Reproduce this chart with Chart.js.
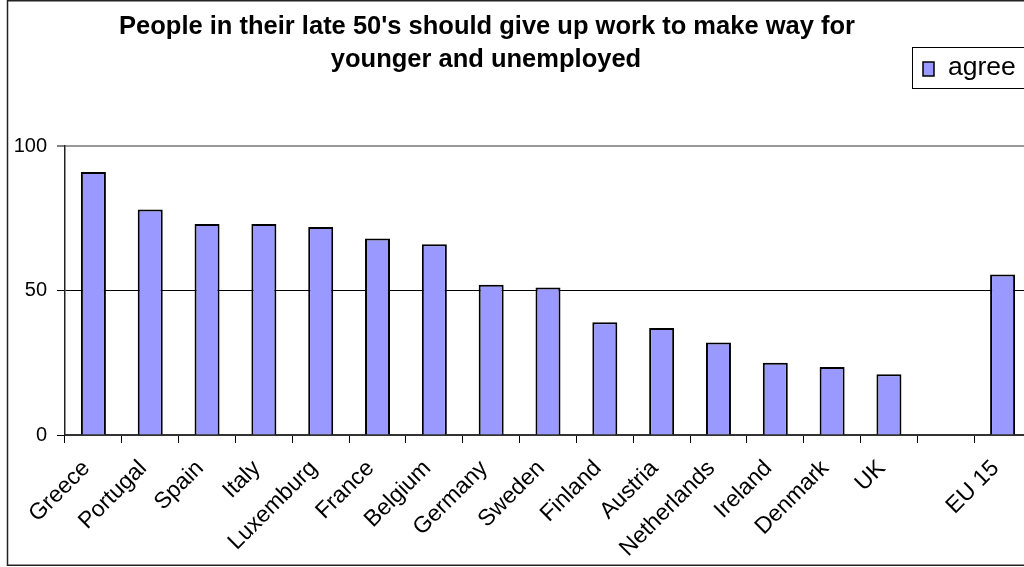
<!DOCTYPE html>
<html>
<head>
<meta charset="utf-8">
<script src="https://cdn.jsdelivr.net/npm/chart.js@4/dist/chart.umd.min.js"></script>
<style>
  html, body { margin: 0; padding: 0; background: #fff; overflow: hidden; }
  #wrap { width: 1040px; height: 567px; }
</style>
</head>
<body>
<div id="wrap"><canvas id="chart" width="1040" height="567"></canvas></div>
<script>
// data
const countries = ["Greece", "Portugal", "Spain", "Italy", "Luxemburg", "France", "Belgium",
    "Germany", "Sweden", "Finland", "Austria", "Netherlands", "Ireland", "Denmark", "UK", "", "EU 15"];
const agree = [91, 78, 73, 73, 72, 68, 66, 52, 51, 39, 37, 32, 25, 23.5, 21, null, 55.5];
const yTicks = [0, 50, 100];
const titleLines = ["People in their late 50's should give up work to make way for",
    "younger and unemployed"];

const FONT = "'Liberation Sans', Arial, sans-serif";

// title, legend box and outer frame drawn like the spreadsheet chart
const decorations = {
    id: "decorations",
    afterDraw(chart) {
        const ctx = chart.ctx;
        ctx.save();
        // outer frame
        ctx.strokeStyle = "#222";
        ctx.lineWidth = 1.5;
        ctx.strokeRect(7.5, 0.75, 1100, 564.5);

        // title
        ctx.fillStyle = "#000";
        ctx.font = "bold 25.5px " + FONT;
        ctx.textAlign = "center";
        ctx.textBaseline = "alphabetic";
        ctx.fillText(titleLines[0], 487, 34);
        ctx.fillText(titleLines[1], 486, 67);

        // legend
        const ds = chart.data.datasets[0];
        ctx.lineWidth = 1;
        ctx.strokeStyle = "#000";
        ctx.strokeRect(912.5, 47.5, 140, 41);
        ctx.fillStyle = ds.backgroundColor;
        ctx.fillRect(923, 62, 11, 14);
        ctx.lineWidth = 1.5;
        ctx.strokeRect(923, 62, 11, 14);
        ctx.fillStyle = "#000";
        ctx.font = "26.5px " + FONT;
        ctx.textAlign = "left";
        ctx.textBaseline = "middle";
        ctx.fillText(ds.label, 948, 68);
        ctx.restore();
    }
};

new Chart(document.getElementById("chart").getContext("2d"), {
    type: "bar",
    data: {
        labels: countries,
        datasets: [{
            label: "agree",
            data: agree,
            backgroundColor: "#9999FF",
            borderColor: "#000",
            borderWidth: 2,
            barPercentage: 0.44,
            categoryPercentage: 1
        }]
    },
    options: {
        responsive: false,
        animation: false,
        layout: { padding: { top: 146, right: 9, left: 0, bottom: 0 } },
        plugins: {
            legend: { display: false },
            title: { display: false },
            tooltip: { enabled: false }
        },
        scales: {
            x: {
                offset: true,
                afterFit: s => { s.height = 132; },
                grid: {
                    offset: true,
                    drawOnChartArea: false,
                    tickLength: 8,
                    tickColor: "#000",
                    tickWidth: 1
                },
                border: { display: true, color: "#333", width: 2 },
                ticks: {
                    minRotation: 45,
                    maxRotation: 45,
                    autoSkip: false,
                    padding: 12,
                    labelOffset: -7,
                    color: "#000",
                    font: { family: FONT, size: 23 }
                }
            },
            y: {
                min: 0,
                max: 100,
                afterFit: s => { s.width = 65; },
                afterBuildTicks: s => { s.ticks = yTicks.map(v => ({ value: v })); },
                grid: {
                    color: c => c.tick.value === 100 ? "#999" : (c.tick.value === 0 ? "rgba(0,0,0,0)" : "#000"),
                    lineWidth: c => c.tick.value === 100 ? 2 : 1,
                    tickLength: 8,
                    tickColor: "#000",
                    tickWidth: 1
                },
                border: { display: true, color: "#222", width: 1.5 },
                ticks: {
                    padding: 10,
                    color: "#000",
                    font: { family: FONT, size: 20 }
                }
            }
        }
    },
    plugins: [decorations]
});
</script>
</body>
</html>
